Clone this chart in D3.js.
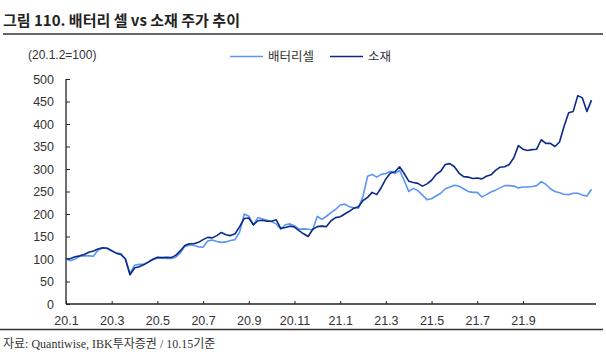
<!DOCTYPE html>
<html><head><meta charset="utf-8">
<script src="https://cdn.jsdelivr.net/npm/d3@7"></script>
<style>body{margin:0;background:#fff}svg{display:block}</style>
</head><body>
<script>
// x tick labels (every 10 samples)
const tickLabels = ["20.1","20.3","20.5","20.7","20.9","20.11","21.1","21.3","21.5","21.7","21.9"];
const seriesNames = ["배터리셀","소재"];
// 배터리셀 (light)
const battery = [100,96,100,106,107,107,106,120,124,124,119,113,112,100,68,86,88,89,93,100,
 102,102,101,101,104,113,128,131,130,127,126,140,142,139,137,138,141,143,160,200,
 195,176,192,189,186,183,178,166,176,178,174,166,167,166,165,195,188,195,203,210,
 220,222,216,214,213,240,284,288,282,288,290,295,290,297,275,250,257,252,242,232,
 234,240,246,256,260,264,262,256,250,248,248,238,243,249,253,258,263,263,262,258,
 260,260,261,263,272,266,256,250,247,244,243,246,246,242,240,255];
// 소재 (dark)
const materials = [100,101,105,107,110,115,118,122,125,124,118,113,110,100,65,80,83,87,93,99,
 104,103,104,103,108,118,130,134,134,137,143,148,147,152,159,154,152,156,172,190,
 191,176,185,186,184,184,187,168,170,173,171,163,156,150,166,172,173,172,185,192,
 194,200,206,213,216,230,237,248,243,259,278,291,294,305,290,273,270,268,262,267,
 275,288,295,310,312,305,291,283,282,279,280,278,284,287,297,304,305,310,325,352,
 344,341,343,344,365,357,357,350,360,395,425,428,463,458,428,453];
const yTicks = [0,50,100,150,200,250,300,350,400,450,500];
const colors = ["#5b96f5","#0a2a86"];

const W=606,H=357;
const svg=d3.select("body").append("svg").attr("width",W).attr("height",H);
const textCol="#333";
const sans="'Noto Sans CJK KR','Noto Sans',sans-serif";

// title
svg.append("text").attr("x",3).attr("y",26).text("그림 110. 배터리 셀 vs 소재 주가 추이")
 .attr("font-family",sans).attr("font-weight","bold").attr("font-size",15).attr("fill","#222");
svg.append("line").attr("x1",3).attr("x2",603).attr("y1",34).attr("y2",34).attr("stroke","#333").attr("stroke-width",1.3);

svg.append("text").attr("x",28).attr("y",59).text("(20.1.2=100)")
 .attr("font-family","Arial,'Liberation Sans',sans-serif").attr("font-size",12).attr("fill",textCol);

const x=d3.scaleLinear().domain([0,115]).range([66,591.5]);
const y=d3.scaleLinear().domain([0,500]).range([304,79]);

// axes
const yAxis=d3.axisLeft(y).tickValues(yTicks).tickSize(-4).tickPadding(12);
const gy=svg.append("g").attr("transform","translate(66,0)").call(yAxis);
gy.select(".domain").attr("stroke","#222").attr("stroke-width",1.3).attr("d","M0,79V304");
gy.selectAll(".tick line").attr("stroke","#222");
gy.selectAll("text").attr("font-family","Arial,'Liberation Sans',sans-serif").attr("font-size",12.5).attr("fill",textCol);

const xAxis=d3.axisBottom(x).tickValues(d3.range(0,101,10)).tickFormat((d,i)=>tickLabels[i]).tickSize(-3).tickPadding(12);
const gx=svg.append("g").attr("transform","translate(0,304)").call(xAxis);
gx.select(".domain").attr("stroke","#222").attr("stroke-width",1.3).attr("d","M66,0H596");
gx.selectAll(".tick line").attr("stroke","#222");
gx.selectAll("text").attr("font-family","Arial,'Liberation Sans',sans-serif").attr("font-size",12.5).attr("fill",textCol);

// lines
const line=d3.line().x((d,i)=>x(i)).y(d=>y(d));
[battery,materials].forEach((s,k)=>{
 svg.append("path").datum(s).attr("d",line).attr("fill","none").attr("stroke",colors[k]).attr("stroke-width",1.6).attr("stroke-linejoin","round");
});

// legend
const leg=[{x:230,tx:268},{x:330,tx:368}];
seriesNames.forEach((n,k)=>{
 svg.append("line").attr("x1",leg[k].x).attr("x2",leg[k].x+33).attr("y1",56.5).attr("y2",56.5).attr("stroke",colors[k]).attr("stroke-width",1.6);
 svg.append("text").attr("x",leg[k].tx).attr("y",61).text(n).attr("font-family",sans).attr("font-size",12.5).attr("fill",textCol);
});

// bottom rule and source
svg.append("line").attr("x1",0).attr("x2",603).attr("y1",329.5).attr("y2",329.5).attr("stroke","#333").attr("stroke-width",1.3);
svg.append("text").attr("x",3).attr("y",348).text("자료: Quantiwise, IBK투자증권 / 10.15기준")
 .attr("font-family","'Liberation Serif','Noto Sans CJK KR',serif").attr("font-size",12).attr("fill",textCol);
</script>
</body></html>
